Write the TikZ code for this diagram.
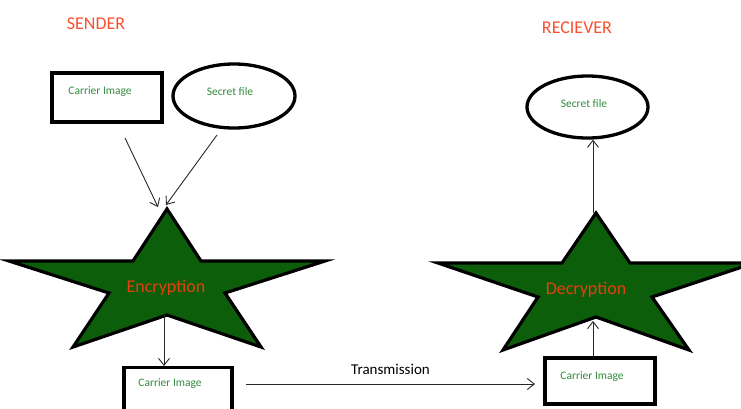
\documentclass[tikz,border=0pt]{standalone}
\usepackage{fontspec}
\setmainfont{Carlito}
\usetikzlibrary{arrows.meta,shapes.geometric}
\definecolor{titlered}{RGB}{250,80,45}
\definecolor{starred}{RGB}{228,64,16}
\definecolor{stargreen}{RGB}{12,94,10}
\definecolor{textgreen}{RGB}{50,140,60}
\definecolor{linegray}{RGB}{40,40,40}
\tikzset{
  boxnode/.style={draw=black,line width=3.3pt,rectangle,inner sep=0pt},
  ellnode/.style={draw=black,line width=3.3pt,ellipse,inner sep=0pt},
  smalltext/.style={text=textgreen,font=\fontsize{11.5}{13}\selectfont,inner sep=0pt},
  titletext/.style={text=titlered,font=\fontsize{18}{20}\selectfont,inner sep=0pt},
  startext/.style={text=starred,font=\fontsize{18}{20}\selectfont,inner sep=0pt},
  starshape/.style={draw=black,fill=stargreen,line width=3.2pt,line join=miter},
  conn/.style={draw=linegray,line width=0.9pt,-{Straight Barb[length=7pt,width=11pt,line width=0.9pt]}},
}
\begin{document}
\begin{tikzpicture}[x=1pt,y=-1pt]
\useasboundingbox (0,0) rectangle (741,408);
\clip (0,0) rectangle (741,408);
\fill[white] (0,0) rectangle (741,408);
% titles
\node[titletext] (sender) at (96,24) {SENDER};
\node[titletext] (receiver) at (577,28) {RECIEVER};
% sender inputs
\node[boxnode,minimum width=110pt,minimum height=49pt] (cimg) at (107,97.5) {};
\node[smalltext] (cimgt) at (100,92) {Carrier Image};
\node[ellnode,minimum width=122pt,minimum height=64pt] (sfile) at (234,96) {};
\node[smalltext] (sfilet) at (230,92) {Secret file};
% encryption star
\begin{scope}[shift={(167,209)}]
\draw[starshape] (0,0) -- (34,52) -- (158,52) -- (58,84) -- (94,138) -- (0,106)
  -- (-94,138) -- (-58,84) -- (-158,52) -- (-34,52) -- cycle;
\coordinate (encTop) at (0,0);
\coordinate (encBot) at (-3,106);
\end{scope}
\node[startext] (enct) at (166,288) {Encryption};
% sender output box
\node[boxnode,minimum width=108pt,minimum height=60pt,anchor=north] (cout) at (178,366) {};
\node[smalltext] (coutt) at (170,384) {Carrier Image};
% receiver box
\node[boxnode,minimum width=110pt,minimum height=46pt] (cin) at (600,381) {};
\node[smalltext] (cint) at (592,377) {Carrier Image};
% decryption star
\begin{scope}[shift={(596,213)}]
\draw[starshape] (0,0) -- (34,50) -- (158,50) -- (56,84) -- (93,137) -- (0,104)
  -- (-93,137) -- (-58,84) -- (-158,50) -- (-34,50) -- cycle;
\coordinate (decTop) at (-3,0);
\coordinate (decBot) at (-3,108);
\end{scope}
\node[startext] (dect) at (586,290) {Decryption};
% receiver output ellipse
\node[ellnode,minimum width=121pt,minimum height=62pt] (rfile) at (587.5,107) {};
\node[smalltext] (rfilet) at (584,104) {Secret file};
% connectors
\coordinate (a1s) at (125,138);
\coordinate (a1e) at (158,207);
\coordinate (a2s) at (217,135);
\coordinate (a2e) at (166,205);
\draw[conn] (a1s) -- (a1e);
\draw[conn] (a2s) -- (a2e);
\draw[conn] (encBot) -- (encBot |- cout.north);
\coordinate (ts) at (246,384);
\coordinate (te) at (535,384);
\draw[conn] (ts) -- (te) node[midway,above=9pt,inner sep=0pt,text=black,font=\fontsize{15}{17}\selectfont] (trans) {Transmission};
\draw[conn] (decBot |- cin.north) -- (decBot);
\draw[conn] (decTop) -- (decTop |- rfile.south);
\end{tikzpicture}
\end{document}
